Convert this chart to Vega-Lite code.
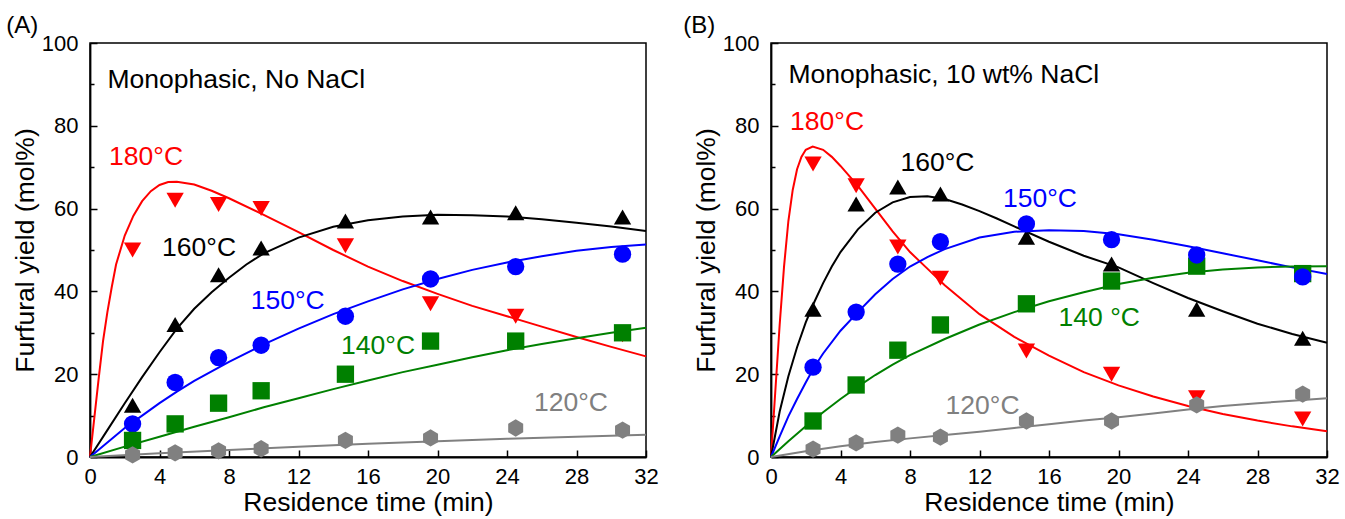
{
  "$schema": "https://vega.github.io/schema/vega-lite/v6.json",
  "padding": {"left": 5, "top": 13, "right": 0, "bottom": 0},
  "background": "white",
  "spacing": 23,
  "config": {
    "font": "Liberation Sans",
    "view": {"stroke": "black", "strokeWidth": 1.5},
    "axis": {"grid": false, "domainColor": "black", "domainWidth": 1.8, "tickColor": "black", "tickWidth": 1.5, "labelColor": "black", "titleColor": "black", "labelFontSize": 22, "titleFontSize": 26.5, "titleFontWeight": "normal", "labelFont": "Liberation Sans", "titleFont": "Liberation Sans", "labelOverlap": false, "labelFlush": false},
    "title": {"fontSize": 24, "fontWeight": "normal", "anchor": "start", "color": "black", "font": "Liberation Sans"}
  },
  "datasets": {
    "pointsA": [
      {"t": 2.45, "y": 50, "s": "180°C"}, {"t": 4.9, "y": 62, "s": "180°C"}, {"t": 7.4, "y": 61, "s": "180°C"}, {"t": 9.85, "y": 60, "s": "180°C"}, {"t": 14.7, "y": 51, "s": "180°C"}, {"t": 19.6, "y": 37, "s": "180°C"}, {"t": 24.5, "y": 34, "s": "180°C"}, {"t": 30.65, "y": 29.5, "s": "180°C"},
      {"t": 2.45, "y": 12.5, "s": "160°C"}, {"t": 4.9, "y": 32, "s": "160°C"}, {"t": 7.4, "y": 44, "s": "160°C"}, {"t": 9.85, "y": 50.5, "s": "160°C"}, {"t": 14.7, "y": 57, "s": "160°C"}, {"t": 19.6, "y": 58, "s": "160°C"}, {"t": 24.5, "y": 59, "s": "160°C"}, {"t": 30.65, "y": 58, "s": "160°C"},
      {"t": 2.45, "y": 8, "s": "150°C"}, {"t": 4.9, "y": 18, "s": "150°C"}, {"t": 7.4, "y": 24, "s": "150°C"}, {"t": 9.85, "y": 27, "s": "150°C"}, {"t": 14.7, "y": 34, "s": "150°C"}, {"t": 19.6, "y": 43, "s": "150°C"}, {"t": 24.5, "y": 46, "s": "150°C"}, {"t": 30.65, "y": 49, "s": "150°C"},
      {"t": 2.45, "y": 4, "s": "140°C"}, {"t": 4.9, "y": 8, "s": "140°C"}, {"t": 7.4, "y": 13, "s": "140°C"}, {"t": 9.85, "y": 16, "s": "140°C"}, {"t": 14.7, "y": 20, "s": "140°C"}, {"t": 19.6, "y": 28, "s": "140°C"}, {"t": 24.5, "y": 28, "s": "140°C"}, {"t": 30.65, "y": 30, "s": "140°C"},
      {"t": 2.45, "y": 0.5, "s": "120°C"}, {"t": 4.9, "y": 1, "s": "120°C"}, {"t": 7.4, "y": 1.5, "s": "120°C"}, {"t": 9.85, "y": 2, "s": "120°C"}, {"t": 14.7, "y": 4, "s": "120°C"}, {"t": 19.6, "y": 4.6, "s": "120°C"}, {"t": 24.5, "y": 7, "s": "120°C"}, {"t": 30.65, "y": 6.5, "s": "120°C"}
    ],
    "curvesA": [
      {"t": 0, "y": 0, "s": "180°C"}, {"t": 0.25, "y": 9.5, "s": "180°C"}, {"t": 0.5, "y": 19, "s": "180°C"}, {"t": 0.75, "y": 28, "s": "180°C"}, {"t": 1, "y": 35, "s": "180°C"}, {"t": 1.25, "y": 41, "s": "180°C"}, {"t": 1.5, "y": 46.5, "s": "180°C"}, {"t": 2, "y": 53.5, "s": "180°C"}, {"t": 2.5, "y": 58.3, "s": "180°C"}, {"t": 3, "y": 61.8, "s": "180°C"}, {"t": 3.5, "y": 64.2, "s": "180°C"}, {"t": 4, "y": 65.7, "s": "180°C"}, {"t": 4.5, "y": 66.4, "s": "180°C"}, {"t": 5, "y": 66.5, "s": "180°C"}, {"t": 6, "y": 65.8, "s": "180°C"}, {"t": 7, "y": 64.3, "s": "180°C"}, {"t": 8, "y": 62.5, "s": "180°C"}, {"t": 10, "y": 58.5, "s": "180°C"}, {"t": 12, "y": 54.3, "s": "180°C"}, {"t": 14, "y": 50, "s": "180°C"}, {"t": 16, "y": 46, "s": "180°C"}, {"t": 18, "y": 42.5, "s": "180°C"}, {"t": 20, "y": 39.4, "s": "180°C"}, {"t": 22, "y": 36.5, "s": "180°C"}, {"t": 24, "y": 34, "s": "180°C"}, {"t": 26, "y": 31.5, "s": "180°C"}, {"t": 28, "y": 29, "s": "180°C"}, {"t": 30, "y": 26.6, "s": "180°C"}, {"t": 32, "y": 24.3, "s": "180°C"},
      {"t": 0, "y": 0, "s": "160°C"}, {"t": 1, "y": 6.5, "s": "160°C"}, {"t": 2, "y": 13, "s": "160°C"}, {"t": 3, "y": 19.3, "s": "160°C"}, {"t": 4, "y": 25.3, "s": "160°C"}, {"t": 5, "y": 31, "s": "160°C"}, {"t": 6, "y": 35.8, "s": "160°C"}, {"t": 7, "y": 39.8, "s": "160°C"}, {"t": 8, "y": 43.3, "s": "160°C"}, {"t": 9, "y": 46.5, "s": "160°C"}, {"t": 10, "y": 49.2, "s": "160°C"}, {"t": 12, "y": 53, "s": "160°C"}, {"t": 14, "y": 55.6, "s": "160°C"}, {"t": 16, "y": 57.2, "s": "160°C"}, {"t": 18, "y": 58.1, "s": "160°C"}, {"t": 20, "y": 58.5, "s": "160°C"}, {"t": 22, "y": 58.4, "s": "160°C"}, {"t": 24, "y": 58.1, "s": "160°C"}, {"t": 26, "y": 57.4, "s": "160°C"}, {"t": 28, "y": 56.6, "s": "160°C"}, {"t": 30, "y": 55.7, "s": "160°C"}, {"t": 32, "y": 54.6, "s": "160°C"},
      {"t": 0, "y": 0, "s": "150°C"}, {"t": 1, "y": 3.5, "s": "150°C"}, {"t": 2, "y": 7, "s": "150°C"}, {"t": 3, "y": 10, "s": "150°C"}, {"t": 4, "y": 13, "s": "150°C"}, {"t": 5, "y": 15.8, "s": "150°C"}, {"t": 6, "y": 18.4, "s": "150°C"}, {"t": 8, "y": 23, "s": "150°C"}, {"t": 10, "y": 27.2, "s": "150°C"}, {"t": 12, "y": 31, "s": "150°C"}, {"t": 14, "y": 34.5, "s": "150°C"}, {"t": 16, "y": 37.6, "s": "150°C"}, {"t": 18, "y": 40.5, "s": "150°C"}, {"t": 20, "y": 43, "s": "150°C"}, {"t": 22, "y": 45.2, "s": "150°C"}, {"t": 24, "y": 47, "s": "150°C"}, {"t": 26, "y": 48.5, "s": "150°C"}, {"t": 28, "y": 49.8, "s": "150°C"}, {"t": 30, "y": 50.7, "s": "150°C"}, {"t": 32, "y": 51.3, "s": "150°C"},
      {"t": 0, "y": 0, "s": "140°C"}, {"t": 2, "y": 2.5, "s": "140°C"}, {"t": 4, "y": 4.9, "s": "140°C"}, {"t": 6, "y": 7.3, "s": "140°C"}, {"t": 8, "y": 9.6, "s": "140°C"}, {"t": 10, "y": 12, "s": "140°C"}, {"t": 12, "y": 14.2, "s": "140°C"}, {"t": 14, "y": 16.4, "s": "140°C"}, {"t": 16, "y": 18.5, "s": "140°C"}, {"t": 18, "y": 20.5, "s": "140°C"}, {"t": 20, "y": 22.3, "s": "140°C"}, {"t": 22, "y": 24.1, "s": "140°C"}, {"t": 24, "y": 25.8, "s": "140°C"}, {"t": 26, "y": 27.3, "s": "140°C"}, {"t": 28, "y": 28.7, "s": "140°C"}, {"t": 30, "y": 30, "s": "140°C"}, {"t": 32, "y": 31.2, "s": "140°C"},
      {"t": 0, "y": 0, "s": "120°C"}, {"t": 4, "y": 0.9, "s": "120°C"}, {"t": 8, "y": 1.7, "s": "120°C"}, {"t": 12, "y": 2.5, "s": "120°C"}, {"t": 16, "y": 3.2, "s": "120°C"}, {"t": 20, "y": 3.8, "s": "120°C"}, {"t": 24, "y": 4.4, "s": "120°C"}, {"t": 28, "y": 4.9, "s": "120°C"}, {"t": 32, "y": 5.4, "s": "120°C"}
    ],
    "labelsA": [
      {"t": 1.0, "y": 91, "s": "note", "label": "Monophasic, No NaCl"},
      {"t": 1.1, "y": 72.5, "s": "180°C", "label": "180°C"},
      {"t": 4.15, "y": 50.5, "s": "160°C", "label": "160°C"},
      {"t": 9.25, "y": 37.7, "s": "150°C", "label": "150°C"},
      {"t": 14.45, "y": 26.8, "s": "140°C", "label": "140°C"},
      {"t": 25.55, "y": 13, "s": "120°C", "label": "120°C"}
    ],
    "pointsB": [
      {"t": 2.42, "y": 70.8, "s": "180°C"}, {"t": 4.9, "y": 65.5, "s": "180°C"}, {"t": 7.3, "y": 50.7, "s": "180°C"}, {"t": 9.75, "y": 43.2, "s": "180°C"}, {"t": 14.7, "y": 25.6, "s": "180°C"}, {"t": 19.6, "y": 20, "s": "180°C"}, {"t": 24.5, "y": 14.3, "s": "180°C"}, {"t": 30.6, "y": 9.2, "s": "180°C"},
      {"t": 2.42, "y": 35.7, "s": "160°C"}, {"t": 4.9, "y": 61.1, "s": "160°C"}, {"t": 7.3, "y": 65.2, "s": "160°C"}, {"t": 9.75, "y": 63.5, "s": "160°C"}, {"t": 14.7, "y": 53.1, "s": "160°C"}, {"t": 19.6, "y": 46.6, "s": "160°C"}, {"t": 24.5, "y": 35.7, "s": "160°C"}, {"t": 30.6, "y": 28.7, "s": "160°C"},
      {"t": 2.42, "y": 8.7, "s": "140°C"}, {"t": 4.9, "y": 17.4, "s": "140°C"}, {"t": 7.3, "y": 25.8, "s": "140°C"}, {"t": 9.75, "y": 31.9, "s": "140°C"}, {"t": 14.7, "y": 37, "s": "140°C"}, {"t": 19.6, "y": 42.5, "s": "140°C"}, {"t": 24.5, "y": 46.1, "s": "140°C"}, {"t": 30.6, "y": 44.3, "s": "140°C"},
      {"t": 2.42, "y": 21.7, "s": "150°C"}, {"t": 4.9, "y": 35, "s": "150°C"}, {"t": 7.3, "y": 46.6, "s": "150°C"}, {"t": 9.75, "y": 52, "s": "150°C"}, {"t": 14.7, "y": 56.3, "s": "150°C"}, {"t": 19.6, "y": 52.5, "s": "150°C"}, {"t": 24.5, "y": 48.8, "s": "150°C"}, {"t": 30.6, "y": 43.5, "s": "150°C"},
      {"t": 2.42, "y": 1.9, "s": "120°C"}, {"t": 4.9, "y": 3.4, "s": "120°C"}, {"t": 7.3, "y": 5.3, "s": "120°C"}, {"t": 9.75, "y": 4.8, "s": "120°C"}, {"t": 14.7, "y": 8.7, "s": "120°C"}, {"t": 19.6, "y": 8.7, "s": "120°C"}, {"t": 24.5, "y": 12.6, "s": "120°C"}, {"t": 30.6, "y": 15.2, "s": "120°C"}
    ],
    "curvesB": [
      {"t": 0, "y": 0, "s": "180°C"}, {"t": 0.25, "y": 16, "s": "180°C"}, {"t": 0.5, "y": 32, "s": "180°C"}, {"t": 0.75, "y": 46, "s": "180°C"}, {"t": 1, "y": 57, "s": "180°C"}, {"t": 1.25, "y": 64.5, "s": "180°C"}, {"t": 1.5, "y": 69.5, "s": "180°C"}, {"t": 1.75, "y": 72.5, "s": "180°C"}, {"t": 2, "y": 74.2, "s": "180°C"}, {"t": 2.4, "y": 75, "s": "180°C"}, {"t": 3, "y": 74.2, "s": "180°C"}, {"t": 3.5, "y": 72.5, "s": "180°C"}, {"t": 4, "y": 70.3, "s": "180°C"}, {"t": 5, "y": 65.5, "s": "180°C"}, {"t": 6, "y": 60, "s": "180°C"}, {"t": 7, "y": 54.5, "s": "180°C"}, {"t": 8, "y": 49.5, "s": "180°C"}, {"t": 9, "y": 45.5, "s": "180°C"}, {"t": 10, "y": 41.5, "s": "180°C"}, {"t": 12, "y": 34.5, "s": "180°C"}, {"t": 14, "y": 29, "s": "180°C"}, {"t": 16, "y": 24.5, "s": "180°C"}, {"t": 18, "y": 20.5, "s": "180°C"}, {"t": 20, "y": 17.3, "s": "180°C"}, {"t": 22, "y": 14.6, "s": "180°C"}, {"t": 24, "y": 12.3, "s": "180°C"}, {"t": 26, "y": 10.4, "s": "180°C"}, {"t": 28, "y": 8.8, "s": "180°C"}, {"t": 30, "y": 7.4, "s": "180°C"}, {"t": 32, "y": 6.2, "s": "180°C"},
      {"t": 0, "y": 0, "s": "160°C"}, {"t": 0.5, "y": 11, "s": "160°C"}, {"t": 1, "y": 19.5, "s": "160°C"}, {"t": 1.5, "y": 26.5, "s": "160°C"}, {"t": 2, "y": 32.5, "s": "160°C"}, {"t": 2.5, "y": 37.5, "s": "160°C"}, {"t": 3, "y": 42, "s": "160°C"}, {"t": 3.5, "y": 46, "s": "160°C"}, {"t": 4, "y": 49.5, "s": "160°C"}, {"t": 5, "y": 55, "s": "160°C"}, {"t": 6, "y": 59, "s": "160°C"}, {"t": 7, "y": 61.5, "s": "160°C"}, {"t": 8, "y": 62.8, "s": "160°C"}, {"t": 9, "y": 63, "s": "160°C"}, {"t": 10, "y": 62.3, "s": "160°C"}, {"t": 11, "y": 61, "s": "160°C"}, {"t": 12, "y": 59.4, "s": "160°C"}, {"t": 13, "y": 57.6, "s": "160°C"}, {"t": 14, "y": 55.7, "s": "160°C"}, {"t": 16, "y": 52, "s": "160°C"}, {"t": 18, "y": 48.6, "s": "160°C"}, {"t": 20, "y": 45.8, "s": "160°C"}, {"t": 22, "y": 42, "s": "160°C"}, {"t": 24, "y": 38.4, "s": "160°C"}, {"t": 26, "y": 35.2, "s": "160°C"}, {"t": 28, "y": 32.2, "s": "160°C"}, {"t": 30, "y": 29.7, "s": "160°C"}, {"t": 32, "y": 27.6, "s": "160°C"},
      {"t": 0, "y": 0, "s": "150°C"}, {"t": 0.5, "y": 5, "s": "150°C"}, {"t": 1, "y": 9.8, "s": "150°C"}, {"t": 1.5, "y": 14, "s": "150°C"}, {"t": 2, "y": 18, "s": "150°C"}, {"t": 2.5, "y": 21.8, "s": "150°C"}, {"t": 3, "y": 25, "s": "150°C"}, {"t": 4, "y": 30.5, "s": "150°C"}, {"t": 5, "y": 35, "s": "150°C"}, {"t": 6, "y": 39.3, "s": "150°C"}, {"t": 7, "y": 43, "s": "150°C"}, {"t": 8, "y": 46, "s": "150°C"}, {"t": 9, "y": 48.3, "s": "150°C"}, {"t": 10, "y": 50.2, "s": "150°C"}, {"t": 12, "y": 53, "s": "150°C"}, {"t": 14, "y": 54.4, "s": "150°C"}, {"t": 16, "y": 54.8, "s": "150°C"}, {"t": 18, "y": 54.6, "s": "150°C"}, {"t": 20, "y": 53.8, "s": "150°C"}, {"t": 22, "y": 52.5, "s": "150°C"}, {"t": 24, "y": 50.9, "s": "150°C"}, {"t": 26, "y": 49.2, "s": "150°C"}, {"t": 28, "y": 47.5, "s": "150°C"}, {"t": 30, "y": 45.8, "s": "150°C"}, {"t": 32, "y": 44.2, "s": "150°C"},
      {"t": 0, "y": 0, "s": "140°C"}, {"t": 1, "y": 3.8, "s": "140°C"}, {"t": 2, "y": 7.4, "s": "140°C"}, {"t": 3, "y": 10.8, "s": "140°C"}, {"t": 4, "y": 14, "s": "140°C"}, {"t": 5, "y": 17, "s": "140°C"}, {"t": 6, "y": 19.8, "s": "140°C"}, {"t": 7, "y": 22.3, "s": "140°C"}, {"t": 8, "y": 24.6, "s": "140°C"}, {"t": 10, "y": 28.5, "s": "140°C"}, {"t": 12, "y": 32, "s": "140°C"}, {"t": 14, "y": 35, "s": "140°C"}, {"t": 16, "y": 37.6, "s": "140°C"}, {"t": 18, "y": 39.8, "s": "140°C"}, {"t": 20, "y": 41.8, "s": "140°C"}, {"t": 22, "y": 43.3, "s": "140°C"}, {"t": 24, "y": 44.5, "s": "140°C"}, {"t": 26, "y": 45.3, "s": "140°C"}, {"t": 28, "y": 45.8, "s": "140°C"}, {"t": 30, "y": 46, "s": "140°C"}, {"t": 32, "y": 46.1, "s": "140°C"},
      {"t": 0, "y": 0, "s": "120°C"}, {"t": 2, "y": 1.4, "s": "120°C"}, {"t": 4, "y": 2.6, "s": "120°C"}, {"t": 6, "y": 3.6, "s": "120°C"}, {"t": 8, "y": 4.5, "s": "120°C"}, {"t": 10, "y": 5.3, "s": "120°C"}, {"t": 12, "y": 6.1, "s": "120°C"}, {"t": 14, "y": 7, "s": "120°C"}, {"t": 16, "y": 7.9, "s": "120°C"}, {"t": 18, "y": 8.8, "s": "120°C"}, {"t": 20, "y": 9.6, "s": "120°C"}, {"t": 22, "y": 10.5, "s": "120°C"}, {"t": 24, "y": 11.5, "s": "120°C"}, {"t": 26, "y": 12.3, "s": "120°C"}, {"t": 28, "y": 13, "s": "120°C"}, {"t": 30, "y": 13.6, "s": "120°C"}, {"t": 32, "y": 14.2, "s": "120°C"}
    ],
    "labelsB": [
      {"t": 1.0, "y": 92.3, "s": "note", "label": "Monophasic, 10 wt% NaCl"},
      {"t": 1.1, "y": 80.9, "s": "180°C", "label": "180°C"},
      {"t": 7.45, "y": 71, "s": "160°C", "label": "160°C"},
      {"t": 13.35, "y": 62.3, "s": "150°C", "label": "150°C"},
      {"t": 16.55, "y": 33.6, "s": "140°C", "label": "140 °C"},
      {"t": 10.05, "y": 12.3, "s": "120°C", "label": "120°C"}
    ]
  },
  "hconcat": [
    {
      "width": 556, "height": 414,
      "title": {"text": "(A)", "frame": "bounds", "anchor": "start", "dx": -6, "offset": 0, "dy": 6},
      "layer": [
        {
          "data": {"name": "curvesA"},
          "mark": {"type": "line", "strokeWidth": 2},
          "encoding": {
            "x": {"field": "t", "type": "quantitative", "scale": {"domain": [0, 32], "nice": false},
              "axis": {"title": "Residence time (min)", "values": [0,2,4,6,8,10,12,14,16,18,20,22,24,26,28,30,32], "labelExpr": "datum.value % 4 === 0 ? datum.label : ''", "tickSize": {"condition": {"test": "datum.value % 4 === 0", "value": -7}, "value": -4}, "labelPadding": 16, "titlePadding": 2, "labelFontSize": 22, "titleFontSize": 26.5}},
            "y": {"field": "y", "type": "quantitative", "scale": {"domain": [0, 100], "nice": false},
              "axis": {"title": "Furfural yield (mol%)", "values": [0,10,20,30,40,50,60,70,80,90,100], "labelExpr": "datum.value % 20 === 0 ? datum.label : ''", "tickSize": {"condition": {"test": "datum.value % 20 === 0", "value": -7}, "value": -4}, "labelPadding": 19, "titlePadding": 2, "labelFontSize": 22, "titleFontSize": 26.5}},
            "color": {"field": "s", "type": "nominal", "scale": {"domain": ["180°C","160°C","150°C","140°C","120°C","note"], "range": ["#ff0000","#000000","#0000ff","#008000","#808080","#000000"]}, "legend": null}
          }
        },
        {
          "data": {"name": "pointsA"},
          "mark": {"type": "point", "filled": true, "opacity": 1},
          "encoding": {
            "x": {"field": "t", "type": "quantitative"},
            "y": {"field": "y", "type": "quantitative"},
            "color": {"field": "s", "type": "nominal", "legend": null},
            "shape": {"field": "s", "type": "nominal", "scale": {"domain": ["180°C","160°C","150°C","140°C","120°C"], "range": ["triangle-down","triangle-up","circle","square","M0,-1L0.866,-0.5L0.866,0.5L0,1L-0.866,0.5L-0.866,-0.5Z"]}, "legend": null},
            "size": {"field": "s", "type": "ordinal", "scale": {"domain": ["180°C","160°C","150°C","140°C","120°C"], "range": [300,300,190,160,240]}, "legend": null}
          }
        },
        {
          "data": {"name": "labelsA"},
          "mark": {"type": "text", "align": "left", "baseline": "middle", "fontSize": 26.5, "font": "Liberation Sans"},
          "encoding": {
            "x": {"field": "t", "type": "quantitative"},
            "y": {"field": "y", "type": "quantitative"},
            "text": {"field": "label"},
            "color": {"field": "s", "type": "nominal", "legend": null}
          }
        }
      ]
    },
    {
      "width": 556, "height": 414,
      "title": {"text": "(B)", "frame": "bounds", "anchor": "start", "dx": -10, "offset": 0, "dy": 6},
      "layer": [
        {
          "data": {"name": "curvesB"},
          "mark": {"type": "line", "strokeWidth": 2},
          "encoding": {
            "x": {"field": "t", "type": "quantitative", "scale": {"domain": [0, 32], "nice": false},
              "axis": {"title": "Residence time (min)", "values": [0,2,4,6,8,10,12,14,16,18,20,22,24,26,28,30,32], "labelExpr": "datum.value % 4 === 0 ? datum.label : ''", "tickSize": {"condition": {"test": "datum.value % 4 === 0", "value": -7}, "value": -4}, "labelPadding": 16, "titlePadding": 2, "labelFontSize": 22, "titleFontSize": 26.5}},
            "y": {"field": "y", "type": "quantitative", "scale": {"domain": [0, 100], "nice": false},
              "axis": {"title": "Furfural yield (mol%)", "values": [0,10,20,30,40,50,60,70,80,90,100], "labelExpr": "datum.value % 20 === 0 ? datum.label : ''", "tickSize": {"condition": {"test": "datum.value % 20 === 0", "value": -7}, "value": -4}, "labelPadding": 19, "titlePadding": 2, "labelFontSize": 22, "titleFontSize": 26.5}},
            "color": {"field": "s", "type": "nominal", "scale": {"domain": ["180°C","160°C","150°C","140°C","120°C","note"], "range": ["#ff0000","#000000","#0000ff","#008000","#808080","#000000"]}, "legend": null}
          }
        },
        {
          "data": {"name": "pointsB"},
          "mark": {"type": "point", "filled": true, "opacity": 1},
          "encoding": {
            "x": {"field": "t", "type": "quantitative"},
            "y": {"field": "y", "type": "quantitative"},
            "color": {"field": "s", "type": "nominal", "legend": null},
            "shape": {"field": "s", "type": "nominal", "scale": {"domain": ["180°C","160°C","150°C","140°C","120°C"], "range": ["triangle-down","triangle-up","circle","square","M0,-1L0.866,-0.5L0.866,0.5L0,1L-0.866,0.5L-0.866,-0.5Z"]}, "legend": null},
            "size": {"field": "s", "type": "ordinal", "scale": {"domain": ["180°C","160°C","150°C","140°C","120°C"], "range": [300,300,190,160,240]}, "legend": null}
          }
        },
        {
          "data": {"name": "labelsB"},
          "mark": {"type": "text", "align": "left", "baseline": "middle", "fontSize": 26.5, "font": "Liberation Sans"},
          "encoding": {
            "x": {"field": "t", "type": "quantitative"},
            "y": {"field": "y", "type": "quantitative"},
            "text": {"field": "label"},
            "color": {"field": "s", "type": "nominal", "legend": null}
          }
        }
      ]
    }
  ]
}
